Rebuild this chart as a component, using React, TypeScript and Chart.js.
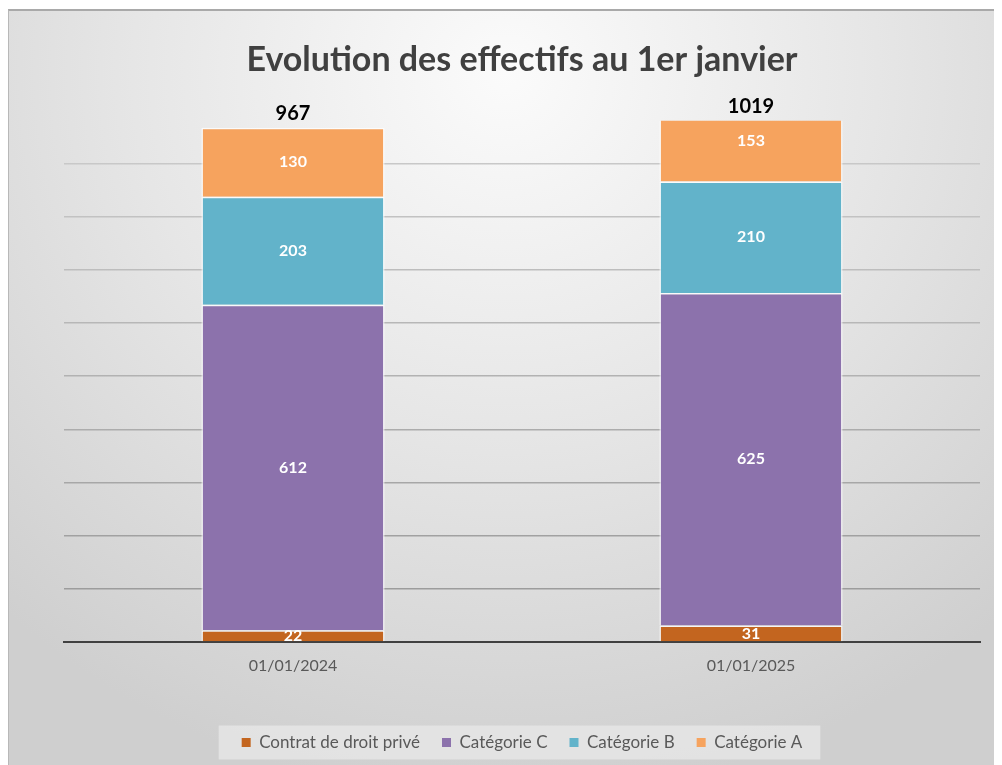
import { useEffect, useRef } from 'react';
import { Chart, registerables } from 'chart.js';

Chart.register(...registerables);

const categories = ['01/01/2024', '01/01/2025'];
const contratDroitPrive = [22, 31];
const categorieC = [612, 625];
const categorieB = [203, 210];
const categorieA = [130, 153];
const totals = [967, 1019];
const seriesLabels = ['Contrat de droit privé', 'Catégorie C', 'Catégorie B', 'Catégorie A'];
const seriesColors = ['#C3651F', '#8C72AC', '#62B3CA', '#F6A35E'];
const yMax = 980;
const yStep = 100;

const segmentLabels = {
  id: 'segmentLabels',
  beforeDraw(chart: any) {
    const boxes = chart.legend && chart.legend.legendHitBoxes;
    if (!boxes || !boxes.length) return;
    const ctx = chart.ctx;
    let minX = Infinity;
    let maxX = -Infinity;
    let cy = 0;
    boxes.forEach((b: any) => {
      minX = Math.min(minX, b.left);
      maxX = Math.max(maxX, b.left + b.width);
      cy = b.top + b.height / 2;
    });
    ctx.save();
    ctx.fillStyle = 'rgba(232,232,232,0.75)';
    ctx.fillRect(minX - 23, cy - 17, maxX - minX + 41, 34);
    ctx.restore();
  },
  afterDatasetsDraw(chart: any) {
    const ctx = chart.ctx;
    ctx.save();
    ctx.textAlign = 'center';
    ctx.textBaseline = 'middle';
    ctx.font = 'bold 16px Lato';
    ctx.fillStyle = '#ffffff';
    chart.data.datasets.forEach((ds: any, i: number) => {
      const meta = chart.getDatasetMeta(i);
      meta.data.forEach((el: any, j: number) => {
        const p = el.getProps(['x', 'y', 'base'], true);
        ctx.fillText(String(ds.data[j]), p.x, (p.y + p.base) / 2);
      });
    });
    const topMeta = chart.getDatasetMeta(chart.data.datasets.length - 1);
    ctx.font = 'bold 20px Lato';
    ctx.fillStyle = '#000000';
    topMeta.data.forEach((el: any, j: number) => {
      const y = Math.max(el.y, chart.chartArea.top);
      ctx.fillText(String(totals[j]), el.x, y - 14);
    });
    ctx.restore();
  },
};

export default function App() {
  const ref = useRef<HTMLCanvasElement>(null);

  useEffect(() => {
    document.documentElement.style.overflow = 'hidden';
    const series = [contratDroitPrive, categorieC, categorieB, categorieA];
    const chart = new Chart(ref.current as HTMLCanvasElement, {
      type: 'bar',
      data: {
        labels: categories,
        datasets: series.map((d, i) => ({
          label: seriesLabels[i],
          data: d,
          backgroundColor: seriesColors[i],
          borderColor: 'rgba(255,255,255,0.75)',
          borderWidth: 1.5,
          barPercentage: 0.4,
          categoryPercentage: 1.0,
        })),
      },
      options: {
        animation: false,
        responsive: true,
        maintainAspectRatio: false,
        layout: { padding: { left: 0, right: 22, top: 0, bottom: 16 } },
        plugins: {
          tooltip: { enabled: false },
          title: {
            display: true,
            text: 'Evolution des effectifs au 1er janvier',
            fullSize: false,
            color: '#404040',
            font: { family: 'Lato', size: 34, weight: 'bold' },
            padding: { top: 29, bottom: 40 },
          },
          legend: {
            position: 'bottom',
            fullSize: false,
            labels: {
              color: '#595959',
              font: { family: 'Lato', size: 17 },
              boxWidth: 9,
              boxHeight: 9,
              padding: 22,
              generateLabels: (c: any) =>
                (Chart.defaults.plugins.legend.labels as any)
                  .generateLabels(c)
                  .map((l: any) => ({ ...l, strokeStyle: l.fillStyle, lineWidth: 0 })),
            },
          },
        },
        scales: {
          x: {
            stacked: true,
            grid: { display: false },
            border: { display: true, color: '#404040', width: 2 },
            ticks: { color: '#595959', font: { family: 'Lato', size: 16 }, padding: 6 },
            afterFit: (axis: any) => {
              axis.height = 70;
            },
          },
          y: {
            stacked: true,
            min: 0,
            max: yMax,
            ticks: { display: false, stepSize: yStep },
            border: { display: false },
            grid: {
              drawTicks: false,
              lineWidth: 1.5,
              color: (ctx: any) => {
                const v = ctx.tick ? ctx.tick.value : 0;
                if (v === 0 || v % yStep !== 0) return 'rgba(0,0,0,0)';
                const g = Math.round(150 + (v / 1000) * 55);
                return `rgb(${g},${g},${g})`;
              },
            },
            afterFit: (axis: any) => {
              axis.width = 55;
            },
          },
        },
      },
      plugins: [segmentLabels],
    } as any);
    return () => chart.destroy();
  }, []);

  return (
    <div
      style={{
        position: 'relative',
        marginTop: 1,
        width: 994,
        height: 768,
        boxSizing: 'border-box',
        borderTop: '2px solid #a9a9a9',
        borderLeft: '1px solid #b8b8b8',
        background:
          'radial-gradient(ellipse 75% 95% at 50% 8%, #fbfbfb 0%, #e6e6e6 50%, #cfcfcf 100%)',
        overflow: 'hidden',
      }}
    >
      <canvas ref={ref} />
    </div>
  );
}
